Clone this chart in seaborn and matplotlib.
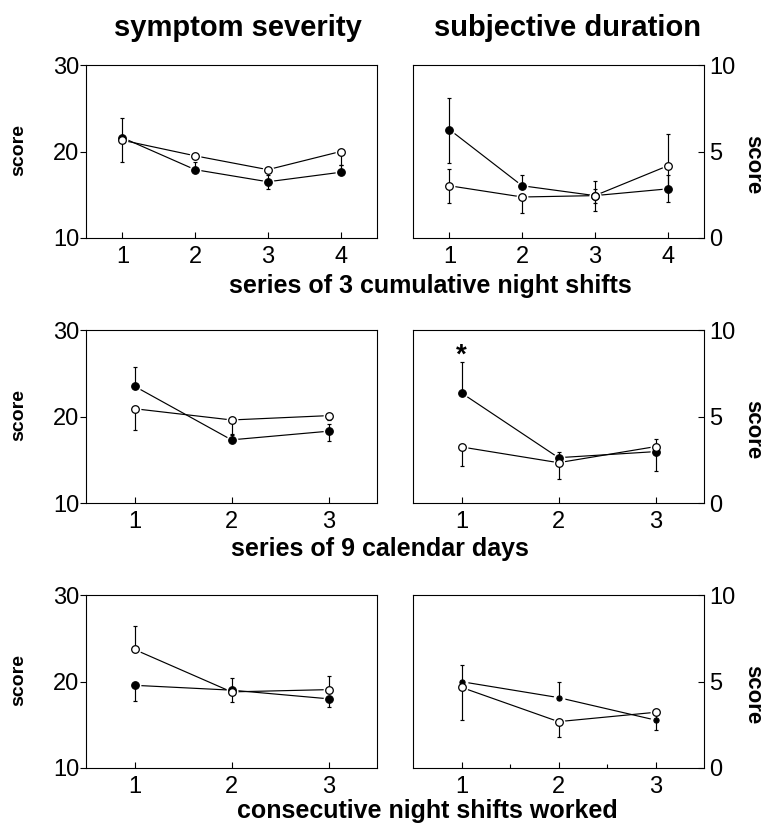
import matplotlib
matplotlib.use("Agg")
import matplotlib.pyplot as plt
import pandas as pd
import seaborn as sns

# ---------------------------------------------------------------- data
titles = ["symptom severity", "subjective duration"]
row_labels = ["series of 3 cumulative night shifts",
              "series of 9 calendar days",
              "consecutive night shifts worked"]
x_row1 = [1, 2, 3, 4]
x_row2 = [1, 2, 3]
x_row3 = [1, 2, 3]

# row 1 - series of 3 cumulative night shifts
sev1_filled = [21.6, 17.9, 16.5, 17.6]
sev1_filled_lo = [0.0, 0.0, 0.8, 0.0]
sev1_filled_hi = [2.3, 0.9, 0.8, 0.8]
sev1_open = [21.3, 19.5, 17.9, 20.0]
sev1_open_lo = [2.5, 0.0, 0.0, 1.6]
sev1_open_hi = [0.0, 0.0, 0.0, 0.0]

dur1_filled = [6.27, 3.02, 2.45, 2.84]
dur1_filled_lo = [1.95, 0.0, 0.9, 0.78]
dur1_filled_hi = [1.8, 0.6, 0.82, 0.83]
dur1_open = [3.02, 2.37, 2.45, 4.17]
dur1_open_lo = [1.0, 0.93, 0.45, 1.3]
dur1_open_hi = [0.95, 0.0, 0.4, 1.87]

# row 2 - series of 9 calendar days
sev2_filled = [23.5, 17.3, 18.3]
sev2_filled_lo = [0.0, 0.0, 1.1]
sev2_filled_hi = [2.2, 0.6, 0.8]
sev2_open = [20.9, 19.6, 20.1]
sev2_open_lo = [2.5, 1.6, 0.5]
sev2_open_hi = [0.0, 0.0, 0.0]

dur2_filled = [6.36, 2.62, 2.97]
dur2_filled_lo = [0.0, 0.0, 1.12]
dur2_filled_hi = [1.8, 0.3, 0.0]
dur2_open = [3.24, 2.33, 3.26]
dur2_open_lo = [1.08, 0.96, 0.0]
dur2_open_hi = [0.0, 0.0, 0.46]

# row 3 - consecutive night shifts worked
sev3_filled = [19.56, 19.0, 18.0]
sev3_filled_lo = [1.8, 0.0, 0.9]
sev3_filled_hi = [0.0, 1.45, 0.0]
sev3_open = [23.7, 18.8, 19.06]
sev3_open_lo = [0.0, 1.2, 0.0]
sev3_open_hi = [2.75, 0.0, 1.6]

dur3_filled = [4.99, 4.07, 2.77]
dur3_filled_lo = [0.0, 0.0, 0.57]
dur3_filled_hi = [0.94, 0.9, 0.45]
dur3_open = [4.66, 2.68, 3.22]
dur3_open_lo = [1.89, 0.91, 0.0]
dur3_open_hi = [0.0, 0.0, 0.0]

sev_ticks = [10, 20, 30]
dur_ticks = [0, 5, 10]

# ------------------------------------------------------------- styling
sns.set_theme(style="white", rc={
    "axes.edgecolor": "black",
    "axes.linewidth": 0.8,
    "xtick.color": "black",
    "ytick.color": "black",
    "text.color": "black",
    "axes.labelcolor": "black",
})
plt.rcParams["font.family"] = ["Liberation Sans", "DejaVu Sans"]

W, H = 764, 824
fig = plt.figure(figsize=(W / 100, H / 100), dpi=100)


def px_axes(left, top, width, height):
    return fig.add_axes([left / W, 1 - (top + height) / H, width / W, height / H])


col_left = [86, 413]
row_top = [65, 330, 595]
box_w, box_h = 291, 173

panels = [
    # (row, col, x, filled, f_lo, f_hi, open, o_lo, o_hi, filled marker size)
    (0, 0, x_row1, sev1_filled, sev1_filled_lo, sev1_filled_hi,
     sev1_open, sev1_open_lo, sev1_open_hi, 30),
    (0, 1, x_row1, dur1_filled, dur1_filled_lo, dur1_filled_hi,
     dur1_open, dur1_open_lo, dur1_open_hi, 30),
    (1, 0, x_row2, sev2_filled, sev2_filled_lo, sev2_filled_hi,
     sev2_open, sev2_open_lo, sev2_open_hi, 30),
    (1, 1, x_row2, dur2_filled, dur2_filled_lo, dur2_filled_hi,
     dur2_open, dur2_open_lo, dur2_open_hi, 30),
    (2, 0, x_row3, sev3_filled, sev3_filled_lo, sev3_filled_hi,
     sev3_open, sev3_open_lo, sev3_open_hi, 30),
    (2, 1, x_row3, dur3_filled, dur3_filled_lo, dur3_filled_hi,
     dur3_open, dur3_open_lo, dur3_open_hi, 14),
]

axes = {}
for (r, c, xs, fy, flo, fhi, oy, olo, ohi, fsize) in panels:
    ax = px_axes(col_left[c], row_top[r], box_w, box_h)
    axes[(r, c)] = ax

    df = pd.DataFrame({
        "x": list(xs) * 2,
        "y": list(fy) + list(oy),
        "group": ["filled"] * len(xs) + ["open"] * len(xs),
    })
    # connecting lines
    sns.lineplot(data=df, x="x", y="y", hue="group",
                 palette={"filled": "black", "open": "black"},
                 legend=False, errorbar=None, sort=False,
                 linewidth=0.85, zorder=1, ax=ax)
    # white gap around every symbol
    ax.plot(xs, fy, "o", ms=8.5, color="white", mew=0, zorder=2)
    ax.plot(xs, oy, "o", ms=8.5, color="white", mew=0, zorder=2)
    # error bars
    ax.errorbar(xs, fy, yerr=[flo, fhi], fmt="none", ecolor="black",
                elinewidth=0.85, capsize=1.6, capthick=0.85, zorder=3)
    ax.errorbar(xs, oy, yerr=[olo, ohi], fmt="none", ecolor="black",
                elinewidth=0.85, capsize=1.6, capthick=0.85, zorder=3)
    # symbols
    sns.scatterplot(x=xs, y=fy, color="black", s=fsize, edgecolor="black",
                    linewidth=0.8, zorder=4, legend=False, ax=ax)
    sns.scatterplot(x=xs, y=oy, color="white", s=30, edgecolor="black",
                    linewidth=0.9, zorder=5, legend=False, ax=ax)

    ax.set_xlabel("")
    ax.set_ylabel("")
    ax.set_xlim(0.5, len(xs) + 0.5)
    ax.set_xticks(xs)
    ax.set_xticklabels([str(v) for v in xs])
    for s in ax.spines.values():
        s.set_visible(True)
        s.set_linewidth(0.8)
        s.set_color("black")
    ax.tick_params(axis="x", direction="in", length=4, width=0.8,
                   pad=6, labelsize=17, bottom=True, top=False,
                   colors="black")
    if c == 0:
        ax.set_ylim(10, 30)
        ax.set_yticks(sev_ticks)
        ax.tick_params(axis="y", direction="out", length=4, width=0.8,
                       pad=1, labelsize=17, left=True, right=False,
                       colors="black")
    else:
        ax.set_ylim(0, 10)
        ax.set_yticks(dur_ticks)
        ax.yaxis.tick_right()
        ax.tick_params(axis="y", direction="in", length=4, width=0.8,
                       pad=4, labelsize=17, left=False, right=True,
                       colors="black")

# minor ticks on the lower duration panel
axes[(2, 1)].set_xticks([1.5, 2.5], minor=True)
axes[(2, 1)].tick_params(axis="x", which="minor", direction="in",
                         length=3, width=0.8, bottom=True)

# significance marker
axes[(1, 1)].annotate("*", xy=(1, dur2_filled[0] + dur2_filled_hi[0]),
                      xytext=(0, -5), textcoords="offset points",
                      ha="center", va="bottom", fontsize=20,
                      fontweight="bold", color="black")

# column titles
fig.text(238 / W, 1 - 35.5 / H, titles[0], ha="center", va="baseline",
         fontsize=21, fontweight="bold", color="black")
fig.text(568 / W, 1 - 35.5 / H, titles[1], ha="center", va="baseline",
         fontsize=21, fontweight="bold", color="black")

# row labels below each pair of panels
row_label_pos = [(430, 292.5), (380, 556), (427, 818)]
for text, (cx, by) in zip(row_labels, row_label_pos):
    fig.text(cx / W, 1 - by / H, text, ha="center", va="baseline",
             fontsize=18, fontweight="bold", color="black")

# y-axis titles
for r, top in enumerate(row_top):
    fig.text(18.5 / W, 1 - (top + 85) / H, "score", rotation=90,
             ha="center", va="center", fontsize=14, fontweight="bold",
             color="black")
    fig.text(753 / W, 1 - (top + 100) / H, "score", rotation=-90,
             ha="center", va="center", fontsize=16, fontweight="bold",
             color="black")

fig.savefig("out.png", dpi=100, facecolor="white")
